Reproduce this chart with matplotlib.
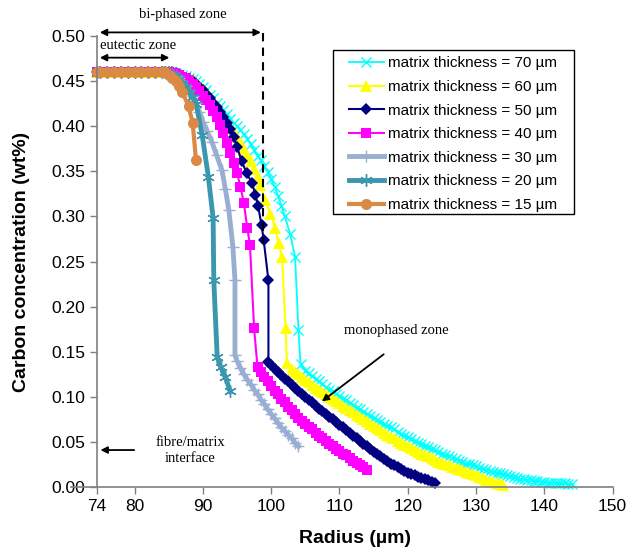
import matplotlib
matplotlib.use("Agg")
import matplotlib.pyplot as plt
from matplotlib.patches import Rectangle

plt.rcParams["font.family"] = ["Liberation Sans", "DejaVu Sans"]

# common eutectic plateau
flat_r = [74.5, 75, 76, 77, 78, 79, 80, 81, 82, 83, 84, 84.5]
flat_c = [0.46, 0.46, 0.46, 0.46, 0.46, 0.46, 0.46, 0.46, 0.46, 0.46, 0.46, 0.46]

# 70 um
r_70 = [85, 85.5, 86, 86.5, 87, 87.5, 88, 88.5, 89, 89.5, 90, 90.5, 91, 91.5, 92,
        92.5, 93, 93.5, 94, 94.5, 95, 95.5, 96, 96.5, 97, 97.5, 98, 98.5, 99, 99.5,
        100, 100.5, 101, 101.5, 102, 102.8, 103.5, 104.0, 104.3,
        105, 105.5, 106, 106.5, 107, 107.5, 108, 108.5, 109, 109.5, 110, 110.5,
        111, 111.5, 112, 112.5, 113, 113.5, 114, 114.5, 115, 115.5, 116, 116.5,
        117, 117.5, 118, 118.5, 119, 119.5, 120, 120.5, 121, 121.5, 122, 122.5,
        123, 123.5, 124, 124.5, 125, 125.5, 126, 126.5, 127, 127.5, 128, 128.5,
        129, 129.5, 130, 130.5, 131, 131.5, 132, 132.5, 133, 133.5, 134, 134.5,
        135, 135.5, 136, 136.5, 137, 137.5, 138, 138.5, 139, 139.5, 140, 140.5,
        141, 141.5, 142, 142.5, 143, 143.5, 144]
c_70 = [0.460, 0.460, 0.459, 0.458, 0.457, 0.456, 0.454, 0.452, 0.450, 0.447, 0.444,
        0.440, 0.435, 0.431, 0.426, 0.422, 0.418, 0.413, 0.408, 0.404, 0.400, 0.396,
        0.391, 0.386, 0.380, 0.374, 0.367, 0.362, 0.356, 0.349, 0.342, 0.333, 0.323,
        0.312, 0.300, 0.280, 0.255, 0.174, 0.136,
        0.129, 0.126, 0.123, 0.120, 0.117, 0.114, 0.111, 0.108, 0.106, 0.103, 0.101,
        0.098, 0.096, 0.093, 0.091, 0.088, 0.086, 0.083, 0.081, 0.079, 0.077, 0.074,
        0.072, 0.070, 0.068, 0.066, 0.064, 0.061, 0.059, 0.057, 0.055, 0.053, 0.051,
        0.049, 0.048, 0.046, 0.044, 0.042, 0.041, 0.039, 0.037, 0.035, 0.034, 0.032,
        0.031, 0.029, 0.028, 0.026, 0.025, 0.024, 0.023, 0.021, 0.020, 0.019, 0.018,
        0.017, 0.016, 0.015, 0.014, 0.013, 0.012, 0.011, 0.010, 0.009, 0.009, 0.008,
        0.008, 0.007, 0.007, 0.006, 0.006, 0.005, 0.005, 0.005, 0.004, 0.004, 0.004,
        0.003, 0.003]

# 60 um
r_60 = [85, 85.5, 86, 86.5, 87, 87.5, 88, 88.5, 89, 89.5, 90, 90.5, 91, 91.5, 92,
        92.5, 93, 93.5, 94, 94.5, 95, 95.5, 96, 96.5, 97, 97.5, 98, 98.4, 99.1,
        99.9, 100.6, 101.1, 101.6, 102.1, 102.3,
        103, 103.5, 104, 104.5, 105, 105.5, 106, 106.5, 107, 107.5, 108, 108.5,
        109, 109.5, 110, 110.5, 111, 111.5, 112, 112.5, 113, 113.5, 114, 114.5,
        115, 115.5, 116, 116.5, 117, 117.5, 118, 118.5, 119, 119.5, 120, 120.5,
        121, 121.5, 122, 122.5, 123, 123.5, 124, 124.5, 125, 125.5, 126, 126.5,
        127, 127.5, 128, 128.5, 129, 129.5, 130, 130.5, 131, 131.5, 132, 132.5,
        133, 133.5, 134]
c_60 = [0.460, 0.460, 0.459, 0.458, 0.457, 0.455, 0.453, 0.451, 0.449, 0.446, 0.442,
        0.438, 0.433, 0.428, 0.423, 0.418, 0.412, 0.406, 0.400, 0.394, 0.388, 0.382,
        0.375, 0.368, 0.361, 0.353, 0.344, 0.335, 0.318, 0.303, 0.287, 0.270, 0.255,
        0.176, 0.137,
        0.131, 0.128, 0.125, 0.122, 0.119, 0.116, 0.113, 0.110, 0.108, 0.105, 0.103,
        0.100, 0.098, 0.095, 0.093, 0.090, 0.088, 0.085, 0.083, 0.080, 0.078, 0.075,
        0.073, 0.070, 0.068, 0.065, 0.063, 0.060, 0.058, 0.056, 0.054, 0.051, 0.049,
        0.047, 0.045, 0.043, 0.041, 0.039, 0.037, 0.035, 0.034, 0.032, 0.030, 0.028,
        0.027, 0.025, 0.024, 0.022, 0.021, 0.020, 0.019, 0.017, 0.016, 0.014, 0.013,
        0.011, 0.010, 0.008, 0.007, 0.006, 0.005, 0.003, 0.002]

# 50 um
r_50 = [85, 85.5, 86, 86.5, 87, 87.5, 88, 88.5, 89, 89.5, 90, 90.5, 91, 91.5, 92,
        92.5, 93, 93.5, 94, 94.5, 95, 95.7, 96.4, 97.2, 97.7, 98.1, 98.6, 98.9,
        99.6, 99.6,
        100, 100.5, 101, 101.5, 102, 102.5, 103, 103.5, 104, 104.5, 105, 105.5,
        106, 106.5, 107, 107.5, 108, 108.5, 109, 109.5, 110, 110.5, 111, 111.5,
        112, 112.5, 113, 113.5, 114, 114.5, 115, 115.5, 116, 116.5, 117, 117.5,
        118, 118.5, 119, 119.5, 120, 120.5, 121, 121.5, 122, 122.5, 123, 123.5,
        124]
c_50 = [0.460, 0.460, 0.459, 0.458, 0.456, 0.454, 0.452, 0.450, 0.447, 0.444, 0.440,
        0.436, 0.431, 0.426, 0.421, 0.416, 0.410, 0.404, 0.397, 0.388, 0.377, 0.361,
        0.348, 0.337, 0.324, 0.311, 0.290, 0.274, 0.229, 0.139,
        0.135, 0.131, 0.127, 0.124, 0.120, 0.117, 0.113, 0.110, 0.106, 0.103, 0.100,
        0.097, 0.094, 0.090, 0.087, 0.084, 0.081, 0.078, 0.075, 0.072, 0.069, 0.066,
        0.063, 0.060, 0.057, 0.054, 0.051, 0.048, 0.045, 0.042, 0.039, 0.037, 0.034,
        0.031, 0.029, 0.026, 0.024, 0.022, 0.020, 0.018, 0.016, 0.014, 0.013, 0.011,
        0.010, 0.009, 0.008, 0.006, 0.005]

# 40 um
r_40 = [85, 85.5, 86, 86.5, 87, 87.5, 88, 88.5, 89, 89.5, 90, 90.5, 91, 91.5, 92,
        92.5, 93, 93.5, 94, 94.5, 95, 95.5, 96, 96.5, 96.9, 97.5, 98,
        98.5, 99, 99.5, 100, 100.5, 101, 101.5, 102, 102.5, 103, 103.5, 104, 104.5,
        105, 105.5, 106, 106.5, 107, 107.5, 108, 108.5, 109, 109.5, 110, 110.5,
        111, 111.5, 112, 112.5, 113, 113.5, 114]
c_40 = [0.460, 0.459, 0.458, 0.457, 0.455, 0.453, 0.450, 0.447, 0.443, 0.439, 0.434,
        0.429, 0.424, 0.417, 0.410, 0.401, 0.392, 0.381, 0.370, 0.359, 0.348, 0.333,
        0.315, 0.287, 0.268, 0.176, 0.133,
        0.128, 0.122, 0.117, 0.112, 0.107, 0.103, 0.098, 0.094, 0.089, 0.085, 0.081,
        0.077, 0.073, 0.070, 0.067, 0.064, 0.060, 0.057, 0.054, 0.051, 0.048, 0.045,
        0.042, 0.040, 0.037, 0.035, 0.032, 0.029, 0.027, 0.024, 0.022, 0.019]

# 30 um
r_30 = [85, 85.5, 86, 86.5, 87, 87.5, 88, 88.5, 89, 89.5, 90, 90.6, 91.3, 92.0,
        92.8, 93.3, 93.8, 94.4, 94.7, 94.7,
        95, 95.5, 96, 96.5, 97, 97.5, 98, 98.5, 99, 99.5, 100, 100.5, 101, 101.5,
        102, 102.5, 103, 103.5, 104]
c_30 = [0.459, 0.458, 0.456, 0.453, 0.450, 0.445, 0.440, 0.433, 0.426, 0.416, 0.405,
        0.395, 0.383, 0.368, 0.351, 0.330, 0.307, 0.266, 0.229, 0.146,
        0.140, 0.132, 0.125, 0.119, 0.114, 0.108, 0.103, 0.097, 0.092, 0.086, 0.081,
        0.076, 0.071, 0.066, 0.062, 0.058, 0.054, 0.049, 0.045]

# 20 um
r_20 = [85, 85.5, 86, 86.5, 87, 87.5, 88, 88.5, 89, 89.9, 90.8, 91.5, 91.6, 92.1,
        92.6, 93.3, 94.0]
c_20 = [0.459, 0.457, 0.455, 0.452, 0.448, 0.443, 0.438, 0.432, 0.425, 0.390, 0.344,
        0.298, 0.229, 0.144, 0.133, 0.122, 0.106]

# 15 um
r_15 = [85, 85.5, 86, 86.5, 87, 87.9, 88.5, 89.0]
c_15 = [0.457, 0.454, 0.450, 0.445, 0.438, 0.422, 0.404, 0.362]

labels = ["matrix thickness = 70 µm", "matrix thickness = 60 µm",
          "matrix thickness = 50 µm", "matrix thickness = 40 µm",
          "matrix thickness = 30 µm", "matrix thickness = 20 µm",
          "matrix thickness = 15 µm"]

x_ticks = [74.5, 80, 90, 100, 110, 120, 130, 140, 150]
x_tick_labels = ["74", "80", "90", "100", "110", "120", "130", "140", "150"]

fig = plt.figure(figsize=(6.28, 5.49), dpi=100)
ax = fig.add_axes([0.1545, 0.1129, 0.821, 0.8215])

styles = [
    dict(color="#00FFFF", marker="x", ms=6.5, mew=1.0, lw=1.3),
    dict(color="#FFFF00", marker="^", ms=8.5, mew=0, lw=1.5),
    dict(color="#000080", marker="D", ms=6, mew=0, lw=1.5),
    dict(color="#FF00FF", marker="s", ms=7, mew=0, lw=1.5),
    dict(color="#98AED2", marker="+", ms=9, mew=1.0, lw=3.5),
    dict(color="#3C97AE", marker=(6, 2, 0), ms=9, mew=1.0, lw=3.5),
    dict(color="#DA8A45", marker="o", ms=8, mew=0, lw=3.0),
]
series = [(r_70, c_70), (r_60, c_60), (r_50, c_50), (r_40, c_40),
          (r_30, c_30), (r_20, c_20), (r_15, c_15)]

for (r, c), st, lab in zip(series, styles, labels):
    ax.plot(flat_r + r, flat_c + c, label=lab, clip_on=False, **st)

ax.set_xlim(74.5, 150)
ax.set_ylim(0, 0.5)
ax.set_xticks(x_ticks)
ax.set_xticklabels(x_tick_labels)
ax.set_yticks([0, 0.05, 0.1, 0.15, 0.2, 0.25, 0.3, 0.35, 0.4, 0.45, 0.5])
ax.set_yticklabels(["0.00", "0.05", "0.10", "0.15", "0.20", "0.25", "0.30",
                    "0.35", "0.40", "0.45", "0.50"])
ax.tick_params(labelsize=12.5, color="#808080", length=5, width=1)
for s in ["top", "right"]:
    ax.spines[s].set_visible(False)
for s in ["left", "bottom"]:
    ax.spines[s].set_color("#808080")
    ax.spines[s].set_linewidth(1.2)
ax.plot([-0.05, 0], [0, 0], transform=ax.transAxes, color="#808080", lw=1.2,
        clip_on=False)

ax.set_xlabel("Radius (µm)", fontsize=14, fontweight="bold", labelpad=12)
ax.set_ylabel("Carbon concentration (wt%)", fontsize=14, fontweight="bold", labelpad=15)

# legend without frame, box drawn separately
leg = ax.legend(loc="upper left", bbox_to_anchor=(0.488, 0.955), fontsize=11,
                frameon=False, numpoints=1, handlelength=2.3, handletextpad=0.25,
                labelspacing=0.63, borderpad=0, borderaxespad=0)
ax.add_patch(Rectangle((0.4577, 0.6053), 0.4674, 0.3637, transform=ax.transAxes,
                       fill=False, edgecolor="black", lw=1.0, clip_on=False))

serif = ["Liberation Serif", "DejaVu Serif"]
arrow2 = dict(arrowstyle="<|-|>", color="black", lw=1.3, mutation_scale=10)
arrow1 = dict(arrowstyle="-|>", color="black", lw=1.3, mutation_scale=10)

ax.annotate("", xy=(74.5, 0.504), xytext=(98.9, 0.504), arrowprops=arrow2,
            annotation_clip=False)
ax.text(87.0, 0.524, "bi-phased zone", family=serif, fontsize=10.5,
        ha="center", va="center")
ax.plot([98.8, 98.8], [0.503, 0.27], color="black", lw=1.5, ls=(0, (4, 3)),
        clip_on=False)

ax.annotate("", xy=(74.5, 0.476), xytext=(85.5, 0.476), arrowprops=arrow2)
ax.text(74.9, 0.489, "eutectic zone", family=serif, fontsize=10.5,
        ha="left", va="center")

ax.annotate("", xy=(107.1, 0.093), xytext=(116.8, 0.149), arrowprops=arrow1)
ax.text(118.3, 0.174, "monophased zone", family=serif, fontsize=10.5,
        ha="center", va="center")

ax.annotate("", xy=(74.6, 0.041), xytext=(80.35, 0.041), arrowprops=arrow1)
ax.text(88.2, 0.041, "fibre/matrix\ninterface", family=serif, fontsize=10.5,
        ha="center", va="center", linespacing=1.3)

fig.savefig("out.png", dpi=100)
